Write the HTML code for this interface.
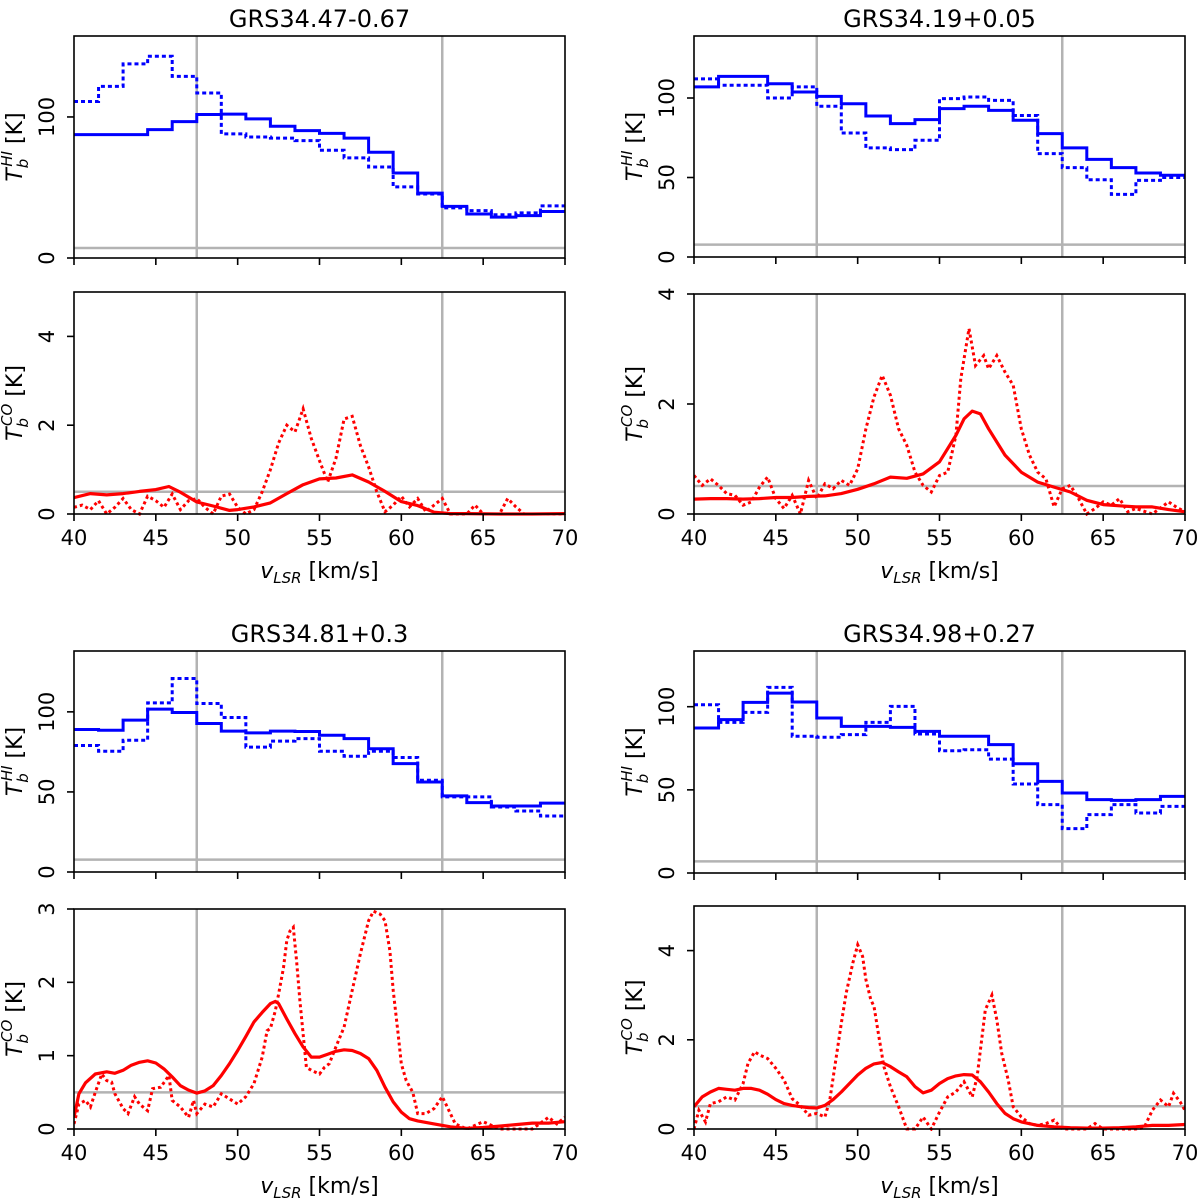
<!DOCTYPE html>
<html><head><meta charset="utf-8"><style>
html,body{margin:0;padding:0;background:#fff;}
svg{display:block;font-family:"DejaVu Sans","Liberation Sans",sans-serif;}
</style></head><body>
<svg id="fig" width="1200" height="1200" viewBox="0 0 1200 1200" xmlns="http://www.w3.org/2000/svg"></svg>
<script>
// HI step spectra: channel edges at 40 + 1.5*k
const hiEdgesStart = 40;
const hiEdgeStep = 1.5;
const tl_hi_solid = [87.5,87.5,87.5,91,96.7,101.7,102,98.6,93.4,90.3,88.4,85,75,60.3,46,36.6,31.2,29,30,33];
const tl_hi_dot = [111,121.7,137.6,143,128.8,117,88,85.8,85,83.2,76.4,71,64.5,50.4,45.4,35.5,33.6,30.7,32,37];
const tr_hi_solid = [107,113.6,113.6,109,103.8,101,96.4,88.7,83.9,86.4,93.3,94.8,92.2,86,77.6,68.6,61.4,56.2,52.8,51.4];
const tr_hi_dot = [112,108,108,100,107,94.8,78,68.6,67.5,73.4,99.6,100.6,98.5,89,65,56.2,48.6,39.4,48.2,50];
const bl_hi_solid = [89,88.5,94.8,101.7,99.6,92.7,88,86.9,88,87.7,85.4,83.3,77,67.7,56.2,47.5,43.3,41.2,41.2,43];
const bl_hi_dot = [79,75.4,82.3,105.6,120.8,105.2,96.5,78,81.7,83.3,75.4,72.3,75.4,71.5,57.3,46.9,46.9,40.6,38.1,35];
const br_hi_solid = [87.2,92.2,102.6,108.2,102.8,93.2,88.2,88.2,87.6,85.2,82.2,82.2,77.2,65.7,55.1,48.1,44.1,43.7,44.1,46.1];
const br_hi_dot = [101.2,90.6,96.6,111.6,82.2,81.6,83.2,90.6,100.2,83.6,73.5,74.1,68.5,53.5,41.1,26.7,35.1,41.1,36.1,40.1];

// CO spectra
const tl_co_solid_v = [40,41,42,43,44,45,45.8,46.5,47.5,48.5,49.5,50,51,52,53,54,55,56,57,58,59,60,61,62,63,64,66,68,70];
const tl_co_solid_t = [0.37,0.46,0.43,0.46,0.51,0.55,0.62,0.49,0.27,0.18,0.08,0.10,0.16,0.25,0.46,0.66,0.79,0.81,0.88,0.72,0.51,0.28,0.19,0.04,0.01,0.01,0.0,0.0,0.01];
const tl_co_dot_v0 = 40;
const tl_co_dot_dv = 0.5;
const tl_co_dot_t = [0.15,0.2,0.1,0.3,0.0,0.15,0.35,0.1,0.0,0.4,0.3,0.15,0.45,0.1,0.3,0.35,0.15,0.0,0.4,0.45,0.15,0.0,0.1,0.5,1.0,1.6,2.0,1.85,2.37,1.7,1.2,0.72,1.25,2.14,2.2,1.54,1.06,0.5,0.05,0.2,0.4,0.16,0.35,0.05,0.2,0.35,0,0,0,0.2,0,0,0,0.35,0.16,0,0,0,0,0,0];

const tr_co_solid_v = [40,41,42,43,44,45,46,47,48,49,50,51,52,53,54,55,56,56.5,57,57.5,58,59,60,61,62,63,64,65,66,67,68,69,70];
const tr_co_solid_t = [0.27,0.28,0.28,0.27,0.28,0.30,0.30,0.32,0.33,0.37,0.45,0.55,0.67,0.65,0.73,0.95,1.43,1.73,1.87,1.82,1.55,1.07,0.76,0.58,0.49,0.40,0.25,0.17,0.15,0.13,0.13,0.08,0.04];
const tr_co_dot_v = [40,40.5,41,41.5,42,42.5,43,43.5,44,44.5,45,45.5,46,46.5,47,47.5,48,48.5,49,49.5,50,50.5,51,51.5,52,52.5,53,53.5,54,54.5,55,55.5,56,56.3,56.8,57.2,57.7,58,58.5,59,59.5,60,60.5,61,61.5,62,62.5,63,63.5,64,64.5,65,65.5,66,66.5,67,68,69,69.5,70];
const tr_co_dot_t = [0.7,0.52,0.64,0.52,0.37,0.34,0.16,0.22,0.49,0.67,0.28,0.1,0.34,0,0.61,0.28,0.55,0.46,0.61,0.52,0.82,1.55,2.13,2.52,2.16,1.55,1.25,0.76,0.52,0.4,0.7,0.76,1.43,2.46,3.37,2.7,2.88,2.64,2.88,2.58,2.34,1.55,1.07,0.76,0.64,0.13,0.46,0.52,0.28,0,0.1,0.22,0.16,0.28,0.04,0.1,0,0.22,0.12,0.04];

const bl_co_solid_v = [40,40.3,40.7,41.3,42,42.5,43,43.5,44,44.5,45,45.5,46,46.5,47,47.5,48,48.5,49,49.5,50,50.5,51,51.5,52,52.3,52.5,53,53.5,54,54.5,55,55.5,56,56.5,57,57.5,58,58.5,59,59.5,60,60.5,61,62,63,64,65,66,67,68,69,70];
const bl_co_solid_t = [0.16,0.48,0.63,0.75,0.78,0.76,0.8,0.87,0.91,0.93,0.9,0.82,0.71,0.59,0.53,0.49,0.52,0.59,0.73,0.89,1.07,1.26,1.46,1.59,1.71,1.74,1.71,1.5,1.3,1.12,0.98,0.98,1.02,1.06,1.08,1.07,1.03,0.96,0.8,0.57,0.37,0.23,0.14,0.11,0.07,0.03,0.01,0.02,0.04,0.06,0.08,0.08,0.1];
const bl_co_dot_v = [40,40.3,40.7,41,41.3,41.7,42,42.3,42.5,43,43.3,43.7,44,44.5,44.8,45.3,45.8,46,46.5,47,47.3,47.5,48,48.5,49,49.5,50,50.5,51,51.5,51.8,52,52.3,52.5,52.8,53,53.2,53.4,53.6,53.8,54,54.2,54.5,55,55.3,55.6,56,56.5,57,57.5,58,58.3,58.7,59,59.3,59.5,59.8,60,60.3,60.7,61,61.5,62,62.5,63,63.3,64,65,66,67,68,69,69.5,70];
const bl_co_dot_t = [0.07,0.34,0.39,0.3,0.5,0.75,0.66,0.64,0.48,0.28,0.21,0.44,0.34,0.25,0.55,0.57,0.73,0.39,0.3,0.16,0.39,0.21,0.34,0.3,0.48,0.41,0.34,0.44,0.62,0.98,1.34,1.37,1.61,1.84,2.2,2.57,2.7,2.75,2.29,1.75,1.3,0.84,0.8,0.75,0.84,0.89,1.12,1.39,1.89,2.39,2.84,2.97,2.93,2.84,2.43,1.89,1.3,0.89,0.66,0.5,0.21,0.21,0.28,0.44,0.21,0.07,0,0.1,0,0,0,0.16,0.07,0.16];

const br_co_solid_v = [40,40.5,41,41.5,42,42.5,43,43.5,44,44.5,45,45.5,46,46.5,47,47.5,48,48.5,49,49.5,50,50.5,51,51.5,52,52.5,53,53.5,54,54.5,55,55.5,56,56.5,57,57.5,58,58.5,59,59.5,60,61,62,63,64,65,66,67,68,69,70];
const br_co_solid_t = [0.5,0.72,0.83,0.91,0.89,0.87,0.91,0.91,0.87,0.78,0.66,0.57,0.53,0.5,0.48,0.47,0.53,0.66,0.83,1.02,1.21,1.36,1.46,1.49,1.4,1.28,1.17,0.95,0.81,0.87,1.02,1.13,1.19,1.22,1.21,1.06,0.83,0.57,0.35,0.23,0.16,0.08,0.05,0.03,0.02,0.02,0.03,0.05,0.08,0.08,0.1];
const br_co_dot_v = [40,40.3,40.7,41,41.5,42,42.5,43,43.3,43.7,44,44.5,45,45.5,46,46.5,47,47.5,48,48.3,48.6,49,49.3,49.7,50,50.3,50.5,50.8,51,51.3,51.6,52,52.5,53,53.5,54,54.5,55,55.5,56,56.5,57,57.3,57.5,57.8,58.2,58.5,58.8,59.2,59.5,60,60.5,61,61.5,62,62.5,63,64,64.5,65,67,67.5,68,68.5,69,69.3,69.7,70];
const br_co_dot_t = [0,0.42,0.16,0.57,0.61,0.72,0.65,1.02,1.47,1.73,1.66,1.58,1.36,1.1,0.68,0.53,0.31,0.35,0.27,0.65,1.4,2.37,3.05,3.72,4.13,3.87,3.35,2.9,2.75,2.07,1.4,0.95,0.5,0,0,0.27,0,0.38,0.72,0.83,1.06,0.72,1.17,1.77,2.67,3.0,2.45,1.7,1.1,0.5,0.27,0.12,0.08,0.12,0.2,0,0,0,0.12,0,0,0.03,0.42,0.65,0.5,0.8,0.61,0.42];

const titles = ["GRS34.47-0.67","GRS34.19+0.05","GRS34.81+0.3","GRS34.98+0.27"];
const xTicks = [40,45,50,55,60,65,70];
const hiTicks = [[0,100],[0,50,100],[0,50,100],[0,50,100]];
const coTicks = [[0,2,4],[0,2,4],[0,1,2,3],[0,2,4]];
const hiMax = [157.4,139,138,133.5];
const coMax = [5,4,3,5];
const vLines = [47.5,62.5];
const hiBase = [7.1,7.8,7.7,7];
const coBase = [0.5,0.51,0.5,0.51];

const NS="http://www.w3.org/2000/svg";
const svg=document.getElementById('fig');
function mk(tag,attrs,parent){const e=document.createElementNS(NS,tag);for(const k in attrs)e.setAttribute(k,attrs[k]);(parent||svg).appendChild(e);return e;}

const geom=[
 {l:74,r:565,hiT:36,hiB:258,coT:292,coB:514,title:27},
 {l:694,r:1185,hiT:36,hiB:257,coT:294,coB:514,title:27},
 {l:74,r:565,hiT:651,hiB:872,coT:909,coB:1129,title:642},
 {l:694,r:1185,hiT:651,hiB:873,coT:906,coB:1129,title:642}
];
const hiSolid=[tl_hi_solid,tr_hi_solid,bl_hi_solid,br_hi_solid];
const hiDot=[tl_hi_dot,tr_hi_dot,bl_hi_dot,br_hi_dot];
const coSolidV=[tl_co_solid_v,tr_co_solid_v,bl_co_solid_v,br_co_solid_v];
const coSolidT=[tl_co_solid_t,tr_co_solid_t,bl_co_solid_t,br_co_solid_t];
const coDotV=[tl_co_dot_t.map((_,i)=>tl_co_dot_v0+tl_co_dot_dv*i),tr_co_dot_v,bl_co_dot_v,br_co_dot_v];
const coDotT=[tl_co_dot_t,tr_co_dot_t,bl_co_dot_t,br_co_dot_t];
const panelNames=['grs34-47','grs34-19','grs34-81','grs34-98'];

function ylabel(g,x,y,sup){
  const t=mk('text',{transform:`translate(${x},${y}) rotate(-90)`,'text-anchor':'middle','font-size':'22',fill:'#000'},g);
  
  
  const a=mk('tspan',{'font-style':'italic'},t);a.textContent='T';
  const b=mk('tspan',{'font-style':'italic','font-size':'15',dy:'6'},t);b.textContent='b';
  const c=mk('tspan',{'font-style':'italic','font-size':'15',dx:'-8',dy:'-16'},t);c.textContent=sup;
  const d=mk('tspan',{dy:'10'},t);d.textContent=' [K]';
}

function drawAxes(g,G,top,bot,ticks,labelsX,yFn){
  for(const v of ticks){
    const y=yFn(v);
    mk('line',{x1:G.l-7,x2:G.l,y1:y,y2:y,stroke:'#000','stroke-width':1.6},g);
    const t=mk('text',{transform:`translate(${G.l-20},${y}) rotate(-90)`,'text-anchor':'middle','font-size':'21',fill:'#000'},g);
    
    
    t.textContent=v;
  }
  const xs=v=>G.l+(v-40)/30*(G.r-G.l);
  for(const v of xTicks){
    const x=xs(v);
    mk('line',{x1:x,x2:x,y1:bot,y2:bot+7,stroke:'#000','stroke-width':1.6},g);
    if(labelsX){
      const t=mk('text',{x:x,y:bot+31,'text-anchor':'middle','font-size':'21',fill:'#000'},g);
      
      
      t.textContent=v;
    }
  }
  const fr=mk('rect',{x:G.l,y:top,width:G.r-G.l,height:bot-top,fill:'none',stroke:'#000','stroke-width':1.6},g);
  
  
}

geom.forEach((G,p)=>{
  const g=mk('g',{});
  
  
  const xs=v=>G.l+(v-40)/30*(G.r-G.l);
  const cx=(G.l+G.r)/2;
  const tt=mk('text',{x:cx,y:G.title,'text-anchor':'middle','font-size':'24',fill:'#000'},g);
  
  
  tt.textContent=titles[p];

  // ---- HI panel
  const hy=v=>G.hiB-v/hiMax[p]*(G.hiB-G.hiT);
  const gh=mk('g',{},g);
  
  
  const clipId='ch'+p;
  const cp=mk('clipPath',{id:clipId},gh);mk('rect',{x:G.l,y:G.hiT,width:G.r-G.l,height:G.hiB-G.hiT},cp);
  vLines.forEach(v=>{const l=mk('line',{x1:xs(v),x2:xs(v),y1:G.hiT,y2:G.hiB,stroke:'#b3b3b3','stroke-width':2.5},gh);
    
    });
  const hb=mk('line',{x1:G.l,x2:G.r,y1:hy(hiBase[p]),y2:hy(hiBase[p]),stroke:'#b3b3b3','stroke-width':2.5},gh);
  
  
  function stepPath(arr){let d='';arr.forEach((v,i)=>{const x0=xs(hiEdgesStart+hiEdgeStep*i),x1=xs(hiEdgesStart+hiEdgeStep*(i+1)),y=hy(v);d+=(i===0?`M${x0},${y}`:`V${y}`)+`H${x1}`;});return d;}
  const pd=mk('path',{d:stepPath(hiDot[p]),fill:'none',stroke:'#0000ff','stroke-width':3,'stroke-dasharray':'4,3','clip-path':`url(#${clipId})`},gh);
  
  
  const ps=mk('path',{d:stepPath(hiSolid[p]),fill:'none',stroke:'#0000ff','stroke-width':3,'clip-path':`url(#${clipId})`},gh);
  
  
  drawAxes(gh,G,G.hiT,G.hiB,hiTicks[p],false,hy);
  ylabel(gh,G.l-52,(G.hiT+G.hiB)/2,'HI');

  // ---- CO panel
  const cy=v=>G.coB-v/coMax[p]*(G.coB-G.coT);
  const gc=mk('g',{},g);
  
  
  const clipId2='cc'+p;
  const cp2=mk('clipPath',{id:clipId2},gc);mk('rect',{x:G.l,y:G.coT,width:G.r-G.l,height:G.coB-G.coT+2},cp2);
  vLines.forEach(v=>{const l=mk('line',{x1:xs(v),x2:xs(v),y1:G.coT,y2:G.coB,stroke:'#b3b3b3','stroke-width':2.5},gc);
    
    });
  const cb=mk('line',{x1:G.l,x2:G.r,y1:cy(coBase[p]),y2:cy(coBase[p]),stroke:'#b3b3b3','stroke-width':2.5},gc);
  
  
  function linePath(vs,ts){return vs.map((v,i)=>(i?'L':'M')+xs(v).toFixed(1)+','+cy(ts[i]).toFixed(1)).join('');}
  const cd=mk('path',{d:linePath(coDotV[p],coDotT[p]),fill:'none',stroke:'#ff0000','stroke-width':3,'stroke-dasharray':'3,3','clip-path':`url(#${clipId2})`},gc);
  
  
  const cs=mk('path',{d:linePath(coSolidV[p],coSolidT[p]),fill:'none',stroke:'#ff0000','stroke-width':3.2,'stroke-linejoin':'round','clip-path':`url(#${clipId2})`},gc);
  
  
  drawAxes(gc,G,G.coT,G.coB,coTicks[p],true,cy);
  ylabel(gc,G.l-52,(G.coT+G.coB)/2,'CO');

  const xl=mk('text',{x:cx,y:G.coB+64,'text-anchor':'middle','font-size':'22',fill:'#000'},gc);
  
  
  const a=mk('tspan',{'font-style':'italic'},xl);a.textContent='v';
  const b=mk('tspan',{'font-style':'italic','font-size':'15',dy:'5'},xl);b.textContent='LSR';
  const c=mk('tspan',{dy:'-5'},xl);c.textContent=' [km/s]';
});
</script>
</body></html>
